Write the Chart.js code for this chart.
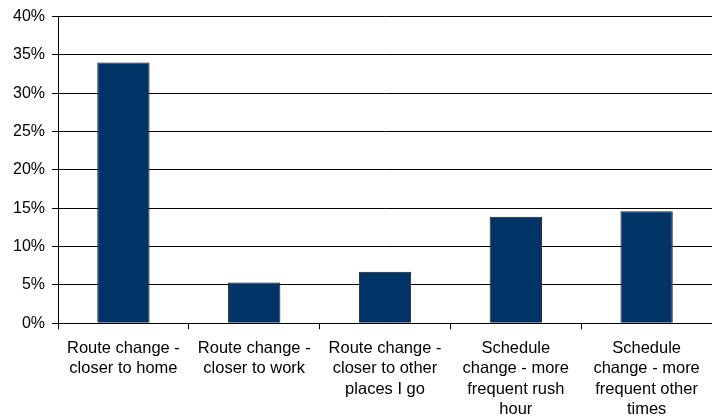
<!DOCTYPE html>
<html>
<head>
<meta charset="utf-8">
<script src="https://cdn.jsdelivr.net/npm/chart.js@4"></script>
<style>
  html, body { margin: 0; padding: 0; background: #fff; }
  #wrap { width: 712px; height: 418px; }
</style>
</head>
<body>
<div id="wrap"><canvas id="reasonsChart"></canvas></div>
<script>
const categories = [
    ['Route change -', 'closer to home'],
    ['Route change -', 'closer to work'],
    ['Route change -', 'closer to other', 'places I go'],
    ['Schedule', 'change - more', 'frequent rush', 'hour'],
    ['Schedule', 'change - more', 'frequent other', 'times']
];
const shares = [34.0, 5.3, 6.7, 13.9, 14.6];
const yTicks = [0, 5, 10, 15, 20, 25, 30, 35, 40];

const ctx = document.getElementById('reasonsChart');

const reasonsChart = new Chart(ctx, {
    type: 'bar',
    data: {
        labels: categories,
        datasets: [{
            data: shares,
            backgroundColor: '#003366',
            borderColor: '#1a1a1a',
            borderWidth: 1,
            barPercentage: 0.4,
            categoryPercentage: 1
        }]
    },
    options: {
        responsive: true,
        maintainAspectRatio: false,
        animation: false,
        layout: {
            padding: { top: 6, right: 0, left: 6, bottom: -11 }
        },
        plugins: {
            legend: { display: false },
            tooltip: { enabled: false }
        },
        scales: {
            x: {
                offset: true,
                grid: {
                    offset: true,
                    drawOnChartArea: false,
                    color: '#000',
                    tickLength: 6
                },
                border: { color: '#000' },
                ticks: {
                    color: '#000',
                    maxRotation: 0,
                    autoSkip: false,
                    padding: 9,
                    font: { family: 'Liberation Sans', size: 16.5, lineHeight: 1.24 }
                }
            },
            y: {
                min: 0,
                max: 40,
                afterBuildTicks: axis => {
                    axis.ticks = yTicks.map(v => ({ value: v }));
                },
                grid: {
                    color: '#000',
                    tickLength: 6
                },
                border: { color: '#000' },
                ticks: {
                    color: '#000',
                    padding: 7,
                    font: { family: 'Liberation Sans', size: 16 },
                    callback: v => v + '%'
                }
            }
        }
    }
});
</script>
</body>
</html>
